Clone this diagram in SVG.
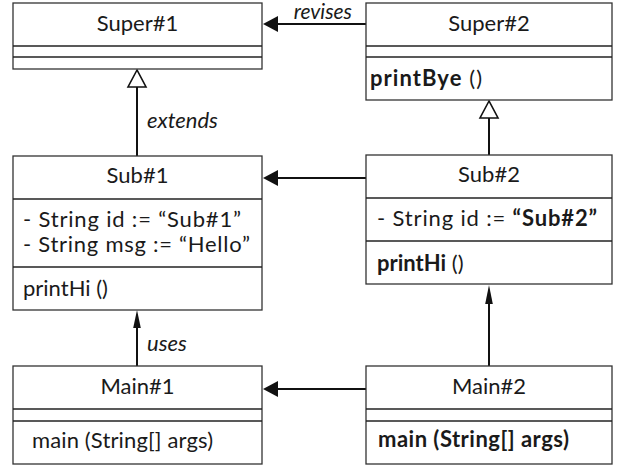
<svg xmlns="http://www.w3.org/2000/svg" width="628" height="468" viewBox="0 0 628 468">
<style>
.box{fill:#fff;stroke:#333;stroke-width:1.3}
.div{stroke:#222;stroke-width:1.3}
text{font-family:"Lato","Open Sans","Liberation Sans",sans-serif;font-size:22px;fill:#1a1a1a}
.t{text-anchor:middle}
.b{font-weight:bold}
.i{font-style:italic}
.ln{stroke:#111;stroke-width:2;fill:none}
.fa{fill:#111;stroke:none}
.ha{fill:#fff;stroke:#111;stroke-width:1.6}
</style>
<rect width="628" height="468" fill="#fff"/>
<g id="connectors">
  <line class="ln" x1="276" y1="24" x2="366" y2="24"/>
  <polygon class="fa" points="263,24 278,16 278,32"/>
  <text class="i" x="352" y="19" text-anchor="end" style="font-size:21px">revises</text>
  <line class="ln" x1="137" y1="87" x2="137" y2="156"/>
  <polygon class="ha" points="137,70 128,87 146,87"/>
  <text class="i" x="147" y="128">extends</text>
  <line class="ln" x1="276" y1="178" x2="366" y2="178"/>
  <polygon class="fa" points="263,178 278,170 278,186"/>
  <line class="ln" x1="489" y1="118" x2="489" y2="155"/>
  <polygon class="ha" points="489,101 480,118 498,118"/>
  <line class="ln" x1="489" y1="300" x2="489" y2="366"/>
  <polygon class="fa" points="489,285 492.8,304 485.2,304"/>
  <line class="ln" x1="137" y1="325" x2="137" y2="366"/>
  <polygon class="fa" points="137,310 140.8,328 133.2,328"/>
  <text class="i" x="147" y="351">uses</text>
  <line class="ln" x1="276" y1="389" x2="366" y2="389"/>
  <polygon class="fa" points="263,389 278,381 278,397"/>
</g>
<g id="super1">
  <rect class="box" x="13" y="3" width="249" height="66"/>
  <line class="div" x1="13" y1="46" x2="262" y2="46"/>
  <line class="div" x1="13" y1="57" x2="262" y2="57"/>
  <text class="t" x="137.5" y="31">Super#1</text>
</g>
<g id="super2">
  <rect class="box" x="366" y="3" width="246" height="97"/>
  <line class="div" x1="366" y1="46" x2="612" y2="46"/>
  <line class="div" x1="366" y1="57" x2="612" y2="57"/>
  <text class="t" x="489" y="31">Super#2</text>
  <text x="370" y="86" textLength="112"><tspan class="b">printBye</tspan> ()</text>
</g>
<g id="sub1">
  <rect class="box" x="13" y="156" width="249" height="154"/>
  <line class="div" x1="13" y1="199" x2="262" y2="199"/>
  <line class="div" x1="13" y1="267" x2="262" y2="267"/>
  <text class="t" x="137.5" y="183">Sub#1</text>
  <text x="23" y="227" textLength="218">- String id := “Sub#1”</text>
  <text x="23" y="252" textLength="227">- String msg := “Hello”</text>
  <text x="23" y="296">printHi ()</text>
</g>
<g id="sub2">
  <rect class="box" x="366" y="155" width="246" height="129"/>
  <line class="div" x1="366" y1="198" x2="612" y2="198"/>
  <line class="div" x1="366" y1="241" x2="612" y2="241"/>
  <text class="t" x="489" y="182">Sub#2</text>
  <text x="377" y="226" textLength="220">- String id := <tspan class="b">“Sub#2”</tspan></text>
  <text x="377" y="271"><tspan class="b">printHi</tspan> ()</text>
</g>
<g id="main1">
  <rect class="box" x="13" y="366" width="249" height="98"/>
  <line class="div" x1="13" y1="409" x2="262" y2="409"/>
  <line class="div" x1="13" y1="421" x2="262" y2="421"/>
  <text class="t" x="137.5" y="394">Main#1</text>
  <text x="32" y="448" textLength="181">main (String[] args)</text>
</g>
<g id="main2">
  <rect class="box" x="366" y="366" width="246" height="98"/>
  <line class="div" x1="366" y1="409" x2="612" y2="409"/>
  <line class="div" x1="366" y1="421" x2="612" y2="421"/>
  <text class="t" x="489" y="394">Main#2</text>
  <text class="b" x="378" y="447" textLength="191">main (String[] args)</text>
</g>
</svg>
